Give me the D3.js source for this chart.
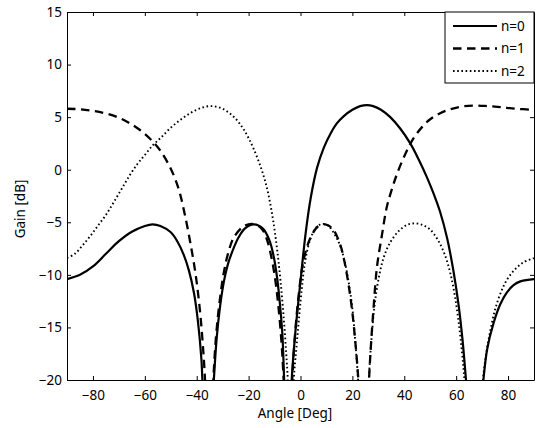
<!DOCTYPE html>
<html>
<head>
<meta charset="utf-8">
<script src="https://cdn.jsdelivr.net/npm/d3@7"></script>
<style>
  body { margin: 0; background: #fff; }
  svg { display: block; }
  .axis text { font-family: "Noto Sans", sans-serif; font-size: 13.5px; fill: #000; }
  .axis path, .axis line { stroke: #000; stroke-width: 1; }
  .label { font-family: "Noto Sans", sans-serif; font-size: 13.5px; fill: #000; }
  .curve { fill: none; stroke: #000; }
</style>
</head>
<body>
<svg id="chart" width="536" height="428"></svg>
<script>
// data: [angle in deg, gain in dB]
// points below -20 only mark the null; they are clipped away

const n0 = [
  [-90, -10.4], [-85, -10.0], [-80, -9.2], [-75, -8.0], [-70, -6.8], [-65, -5.9],
  [-60, -5.35], [-57, -5.2], [-54, -5.35], [-50, -5.95], [-47.5, -6.8], [-45, -8.1],
  [-43, -9.6], [-41, -11.8], [-39.5, -14.5], [-38.2, -18], [-37.8, -20], [-35.6, -30],
  [-33.4, -20], [-32.3, -16], [-31, -13], [-29.5, -10.6], [-28, -9.0], [-26, -7.6],
  [-24, -6.5], [-21.5, -5.6], [-18, -5.2], [-14.5, -5.6], [-12, -6.7], [-10.3, -8.3],
  [-9, -10.3], [-8, -12.6], [-7, -15.6], [-6.3, -20], [-4.8, -30], [-3.4, -20],
  [-2, -15.5], [0, -10.6], [2, -6.0], [4, -2.6], [6.4, 0.2], [9, 2.1], [11.5, 3.4],
  [14, 4.4], [16.7, 5.1], [20, 5.7], [23, 6.05], [25.6, 6.15], [28, 6.05], [31, 5.7],
  [34.6, 5.0], [38.5, 3.9], [42.3, 2.5], [45.5, 1.0], [48.7, -0.7], [51.5, -2.4],
  [53.8, -4.0], [56.5, -6.5], [59, -9.7], [61, -13], [62.5, -16.3], [63.8, -20],
  [67.3, -30], [70.5, -20], [72, -17], [74.4, -14.6], [77, -12.8], [79.5, -11.7],
  [82, -11.0], [85, -10.6], [90, -10.4]
];

const n1 = [
  [-90, 5.8], [-85, 5.75], [-80, 5.6], [-75, 5.35], [-70, 4.95], [-66, 4.45],
  [-62, 3.8], [-58, 2.95], [-54, 1.8], [-50, 0.1], [-47, -1.8], [-44.9, -3.9],
  [-42.5, -6.9], [-40.4, -10], [-38.6, -13.8], [-37.4, -17.5], [-36.8, -20], [-35.1, -30],
  [-33.6, -20], [-32.6, -16], [-31.4, -13.0], [-29.5, -9.7], [-27.5, -7.6], [-25.6, -6.4],
  [-22, -5.4], [-18.6, -5.15], [-15, -5.6], [-13, -6.6], [-11.5, -8.0], [-10, -10.0],
  [-8.6, -12.8], [-7.3, -16.5], [-6.5, -20], [-4.8, -30], [-3.2, -20], [-2.2, -16],
  [-1.0, -12.6], [0.6, -9.4], [2.2, -7.6], [3.8, -6.5], [6.5, -5.45], [9.5, -5.2],
  [12.5, -5.65], [15.4, -7.2], [17, -8.8], [18.5, -10.9], [19.9, -13.4], [21.1, -16.3],
  [22.3, -20], [24.5, -30], [26.4, -20], [27.2, -16.5], [28.2, -13.0], [29.5, -9.2],
  [31.4, -6.2], [33.3, -3.5], [35.3, -1.8], [37.2, -0.4], [40.4, 1.5], [43.6, 3.0],
  [47, 4.1], [50, 4.8], [54, 5.4], [57.7, 5.75], [62, 6.0], [67, 6.1], [72, 6.05],
  [77, 5.95], [83, 5.8], [90, 5.7]
];

const n2 = [
  [-90, -8.4], [-87, -8.0], [-84, -7.2], [-81, -6.3], [-78, -5.3], [-75, -4.3],
  [-72, -3.1], [-69, -1.85], [-66, -0.6], [-63, 0.5], [-60, 1.4], [-57, 2.3],
  [-54, 3.0], [-50, 4.0], [-46, 4.8], [-42, 5.45], [-38, 5.9], [-34.6, 6.05],
  [-31, 5.9], [-28, 5.5], [-25.6, 5.0], [-23.5, 4.4], [-21.8, 3.8], [-19.8, 2.9],
  [-17.9, 1.9], [-15.4, 0.3], [-13.5, -1.2], [-12, -2.8], [-10.5, -4.9], [-9, -7.6],
  [-7.7, -10.6], [-6.5, -14], [-5.5, -17.5], [-4.9, -20], [-3.8, -30], [-2.6, -20],
  [-1.6, -17], [-0.6, -14.2], [0.5, -11.3], [1.8, -8.7], [3.8, -6.6], [6, -5.5],
  [8.5, -5.15], [11, -5.4], [13.5, -6.3], [15.4, -7.3], [17, -8.7], [18.5, -10.6],
  [19.9, -13.0], [21.1, -16.3], [22.2, -20], [24.3, -30], [26.3, -20], [27.3, -16.3],
  [28.5, -13.0], [30, -10.5], [32, -8.4], [34.6, -6.9], [38, -5.8], [41, -5.25],
  [44, -5.1], [47, -5.25], [50, -5.7], [53, -6.7], [55.5, -8.0], [57.7, -9.8],
  [59.5, -12], [61, -14.6], [62.3, -17.5], [63.2, -20], [66.5, -30], [70.3, -20],
  [71.5, -17.6], [73, -15.5], [75, -13.3], [77.5, -11.5], [80, -10.3], [83, -9.4],
  [86, -8.8], [90, -8.4]
];

const series = [
  {name: "n=0", values: n0, dash: null, width: 2.2},
  {name: "n=1", values: n1, dash: "8.5,5.5", width: 2.3},
  {name: "n=2", values: n2, dash: "1.6,2.6", width: 1.9}
];

const xTicks = [-80, -60, -40, -20, 0, 20, 40, 60, 80];
const yTicks = [-20, -15, -10, -5, 0, 5, 10, 15];

// layout

let plotLeft = 67, plotRight = 534, plotTop = 12, plotBottom = 380;

let svg = d3.select("#chart");

let x = d3.scaleLinear().domain([-90, 90]).range([plotLeft, plotRight]);
let y = d3.scaleLinear().domain([-20, 15]).range([plotBottom, plotTop]);

svg.append("defs").append("clipPath")
    .attr("id", "plot-clip")
  .append("rect")
    .attr("x", plotLeft)
    .attr("y", plotTop)
    .attr("width", plotRight - plotLeft)
    .attr("height", plotBottom - plotTop);

// curves

let line = d3.line()
    .x(d => x(d[0]))
    .y(d => y(d[1]))
    .curve(d3.curveCatmullRom.alpha(0.5));

svg.append("g")
    .attr("clip-path", "url(#plot-clip)")
  .selectAll("path")
  .data(series)
  .join("path")
    .attr("class", "curve")
    .attr("stroke-width", d => d.width)
    .attr("stroke-dasharray", d => d.dash)
    .attr("d", d => line(d.values));

// axes, ticks pointing inside like matlab

svg.append("g")
    .attr("class", "axis")
    .attr("transform", `translate(0,${plotBottom})`)
    .call(d3.axisBottom(x).tickValues(xTicks).tickSize(-4).tickSizeOuter(0).tickPadding(10));

svg.append("g")
    .attr("class", "axis")
    .attr("transform", `translate(0,${plotTop})`)
    .call(d3.axisTop(x).tickValues(xTicks).tickSize(-4).tickSizeOuter(0).tickFormat(""));

svg.append("g")
    .attr("class", "axis")
    .attr("transform", `translate(${plotLeft},0)`)
    .call(d3.axisLeft(y).tickValues(yTicks).tickSize(-4).tickSizeOuter(0).tickPadding(5));

svg.append("g")
    .attr("class", "axis")
    .attr("transform", `translate(${plotRight},0)`)
    .call(d3.axisRight(y).tickValues(yTicks).tickSize(-4).tickSizeOuter(0).tickFormat(""));

// axis labels

svg.append("text")
    .attr("class", "label")
    .attr("x", 295)
    .attr("y", 418)
    .attr("text-anchor", "middle")
    .text("Angle [Deg]");

svg.append("text")
    .attr("class", "label")
    .attr("transform", "translate(25,209) rotate(-90)")
    .attr("text-anchor", "middle")
    .text("Gain [dB]");

// legend

let legend = svg.append("g")
    .attr("transform", "translate(445,12)");

legend.append("rect")
    .attr("width", plotRight - 445)
    .attr("height", 71)
    .attr("fill", "#fff")
    .attr("stroke", "#000");

let rows = legend.selectAll("g.row")
  .data(series)
  .join("g")
    .attr("class", "row")
    .attr("transform", (d, i) => `translate(0,${14 + i * 22.5})`);

rows.append("line")
    .attr("x1", 8)
    .attr("x2", 52)
    .attr("stroke", "#000")
    .attr("stroke-width", d => d.width)
    .attr("stroke-dasharray", d => d.dash);

rows.append("text")
    .attr("class", "label")
    .attr("x", 56)
    .attr("dy", "0.35em")
    .text(d => d.name);
</script>
</body>
</html>
